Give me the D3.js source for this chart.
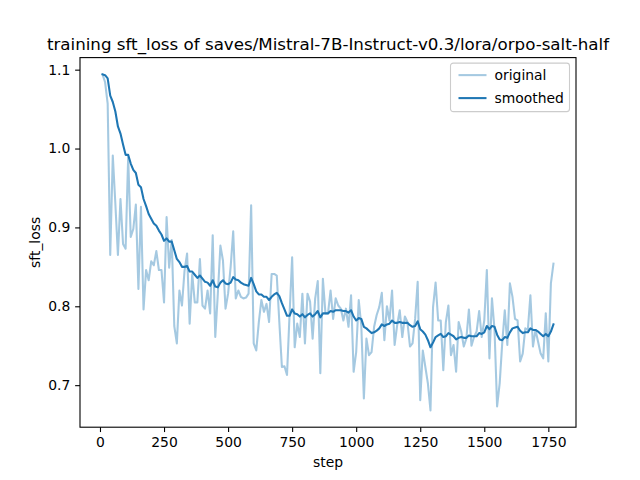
<!DOCTYPE html>
<html>
<head>
<meta charset="utf-8">
<script src="https://cdn.jsdelivr.net/npm/d3@7/dist/d3.min.js"></script>
<style>
  html, body { margin: 0; padding: 0; background: #fff; }
  svg text { font-family: "DejaVu Sans", sans-serif; fill: #000; }
</style>
</head>
<body>
<svg id="chart" width="640" height="480"></svg>
<script>
const title = "training sft_loss of saves/Mistral-7B-Instruct-v0.3/lora/orpo-salt-half";
const xLabel = "step";
const yLabel = "sft_loss";
const seriesNames = ["original", "smoothed"];
const xTicks = [0, 250, 500, 750, 1000, 1250, 1500, 1750];
const yTicks = [0.7, 0.8, 0.9, 1.0, 1.1];

const steps = [
  10,20,30,40,50,60,70,80,90,100,110,120,130,140,150,160,170,180,190,200,
  210,220,230,240,250,260,270,280,290,300,310,320,330,340,350,360,370,380,390,400,
  410,420,430,440,450,460,470,480,490,500,510,520,530,540,550,560,570,580,590,600,
  610,620,630,640,650,660,670,680,690,700,710,720,730,740,750,760,770,780,790,800,
  810,820,830,840,850,860,870,880,890,900,910,920,930,940,950,960,970,980,990,1000,
  1010,1020,1030,1040,1050,1060,1070,1080,1090,1100,1110,1120,1130,1140,1150,1160,1170,1180,1190,1200,
  1210,1220,1230,1240,1250,1260,1270,1280,1290,1300,1310,1320,1330,1340,1350,1360,1370,1380,1390,1400,
  1410,1420,1430,1440,1450,1460,1470,1480,1490,1500,1510,1520,1530,1540,1550,1560,1570,1580,1590,1600,
  1610,1620,1630,1640,1650,1660,1670,1680,1690,1700,1710,1720,1730,1740,1750,1760,1770
];

const original = [
  1.094,1.084,1.057,0.865,0.991,0.930,0.865,0.936,0.879,0.873,
  0.989,0.888,0.898,0.929,0.822,0.926,0.796,0.846,0.833,0.857,
  0.852,0.870,0.846,0.846,0.805,0.913,0.849,0.884,0.775,0.753,
  0.820,0.801,0.845,0.867,0.778,0.841,0.805,0.805,0.860,0.801,
  0.797,0.820,0.791,0.890,0.761,0.816,0.877,0.858,0.797,0.816,
  0.850,0.895,0.810,0.820,0.812,0.810,0.811,0.816,0.928,0.753,
  0.744,0.780,0.808,0.793,0.803,0.780,0.841,0.841,0.839,0.780,
  0.723,0.724,0.713,0.790,0.862,0.748,0.778,0.761,0.816,0.753,
  0.816,0.806,0.759,0.810,0.832,0.715,0.835,0.791,0.791,0.820,
  0.784,0.810,0.801,0.797,0.782,0.797,0.774,0.814,0.717,0.742,
  0.808,0.775,0.683,0.759,0.738,0.742,0.774,0.789,0.799,0.817,
  0.757,0.800,0.782,0.820,0.751,0.776,0.795,0.761,0.787,0.780,
  0.749,0.753,0.784,0.831,0.681,0.744,0.723,0.702,0.668,0.799,
  0.830,0.782,0.782,0.719,0.780,0.801,0.738,0.751,0.717,0.780,
  0.768,0.749,0.759,0.796,0.750,0.761,0.768,0.794,0.761,0.782,
  0.846,0.734,0.810,0.770,0.673,0.702,0.753,0.795,0.751,0.829,
  0.812,0.784,0.782,0.730,0.740,0.772,0.770,0.814,0.749,0.770,
  0.755,0.740,0.734,0.791,0.730,0.829,0.854
];

const smoothed = [
  1.094,1.093,1.089,1.067,1.059,1.047,1.028,1.019,1.005,0.992,
  0.992,0.981,0.973,0.969,0.954,0.951,0.936,0.927,0.917,0.911,
  0.905,0.902,0.896,0.891,0.883,0.886,0.882,0.882,0.871,0.860,
  0.856,0.850,0.850,0.851,0.844,0.844,0.840,0.836,0.839,0.835,
  0.831,0.830,0.826,0.833,0.825,0.824,0.830,0.833,0.829,0.828,
  0.830,0.837,0.834,0.833,0.830,0.828,0.827,0.826,0.836,0.828,
  0.819,0.815,0.815,0.812,0.812,0.808,0.812,0.815,0.817,0.813,
  0.804,0.796,0.788,0.788,0.796,0.791,0.790,0.787,0.790,0.786,
  0.789,0.791,0.787,0.790,0.794,0.786,0.791,0.791,0.791,0.794,
  0.793,0.795,0.795,0.795,0.794,0.794,0.792,0.795,0.787,0.782,
  0.785,0.784,0.774,0.772,0.769,0.766,0.767,0.769,0.772,0.777,
  0.775,0.777,0.778,0.782,0.779,0.779,0.780,0.779,0.779,0.779,
  0.776,0.774,0.775,0.781,0.771,0.768,0.764,0.757,0.748,0.754,
  0.761,0.763,0.765,0.761,0.762,0.766,0.764,0.762,0.758,0.760,
  0.761,0.760,0.760,0.763,0.762,0.762,0.762,0.766,0.765,0.767,
  0.775,0.771,0.775,0.774,0.764,0.758,0.757,0.761,0.760,0.767,
  0.772,0.773,0.774,0.769,0.766,0.767,0.767,0.772,0.770,0.770,
  0.768,0.765,0.762,0.765,0.762,0.768,0.777
];

const svg = d3.select("#chart");
const W = 640, H = 480;
const margin = { left: 80, right: 64, top: 57.6, bottom: 52.8 };
const plotW = W - margin.left - margin.right;
const plotH = H - margin.top - margin.bottom;

const xMin = d3.min(steps), xMax = d3.max(steps);
const xPad = (xMax - xMin) * 0.05;
const allY = original.concat(smoothed);
const yMin = d3.min(allY), yMax = d3.max(allY);
const yPad = (yMax - yMin) * 0.05;

const x = d3.scaleLinear().domain([xMin - xPad, xMax + xPad]).range([0, plotW]);
const y = d3.scaleLinear().domain([yMin - yPad, yMax + yPad]).range([plotH, 0]);

const g = svg.append("g").attr("transform", `translate(${margin.left},${margin.top})`);

svg.append("defs").append("clipPath").attr("id", "clip")
  .append("rect").attr("width", plotW).attr("height", plotH);

const line = (vals) => d3.line()
  .x((d, i) => x(steps[i]))
  .y(d => y(d))(vals);

const lines = g.append("g").attr("clip-path", "url(#clip)");
lines.append("path")
  .attr("d", line(original))
  .attr("fill", "none")
  .attr("stroke", "#1f77b4")
  .attr("stroke-opacity", 0.4)
  .attr("stroke-width", 2.08)
  .attr("stroke-linejoin", "round")
  .attr("stroke-linecap", "square");
lines.append("path")
  .attr("d", line(smoothed))
  .attr("fill", "none")
  .attr("stroke", "#1f77b4")
  .attr("stroke-width", 2.08)
  .attr("stroke-linejoin", "round")
  .attr("stroke-linecap", "square");

// Axes
const xAxis = d3.axisBottom(x).tickValues(xTicks).tickSize(4.86).tickPadding(4.86).tickFormat(d3.format("d"));
const yAxis = d3.axisLeft(y).tickValues(yTicks).tickSize(4.86).tickPadding(4.86).tickFormat(d3.format(".1f"));

const gx = g.append("g").attr("transform", `translate(0,${plotH})`).call(xAxis);
const gy = g.append("g").call(yAxis);
[gx, gy].forEach(a => {
  a.select(".domain").remove();
  a.selectAll(".tick line").attr("stroke", "#000").attr("stroke-width", 1.1);
  a.selectAll(".tick text").attr("font-size", "13.9px").attr("font-family", "DejaVu Sans").attr("fill", "#000");
});

// Spines
g.append("rect")
  .attr("x", 0).attr("y", 0).attr("width", plotW).attr("height", plotH)
  .attr("fill", "none").attr("stroke", "#000").attr("stroke-width", 1.1);

// Title and labels
svg.append("text")
  .attr("x", margin.left + plotW / 2).attr("y", 50)
  .attr("text-anchor", "middle").attr("font-size", "16.7px")
  .text(title);
svg.append("text")
  .attr("x", margin.left + plotW / 2).attr("y", 467)
  .attr("text-anchor", "middle").attr("font-size", "13.9px")
  .text(xLabel);
svg.append("text")
  .attr("transform", `translate(40,${margin.top + plotH / 2}) rotate(-90)`)
  .attr("text-anchor", "middle").attr("font-size", "13.9px")
  .text(yLabel);

// Legend
const lg = g.append("g").attr("transform", `translate(${plotW - 125.5},${5.5})`);
lg.append("rect")
  .attr("width", 119).attr("height", 48.5).attr("rx", 2.8)
  .attr("fill", "#fff").attr("fill-opacity", 0.8)
  .attr("stroke", "#cccccc").attr("stroke-width", 1.1);
seriesNames.forEach((name, i) => {
  const yy = 12 + i * 23;
  lg.append("line")
    .attr("x1", 8).attr("x2", 36).attr("y1", yy).attr("y2", yy)
    .attr("stroke", "#1f77b4")
    .attr("stroke-opacity", i === 0 ? 0.4 : 1)
    .attr("stroke-width", 2.08);
  lg.append("text")
    .attr("x", 44).attr("y", yy + 5)
    .attr("font-size", "13.9px")
    .text(name);
});
</script>
</body>
</html>
